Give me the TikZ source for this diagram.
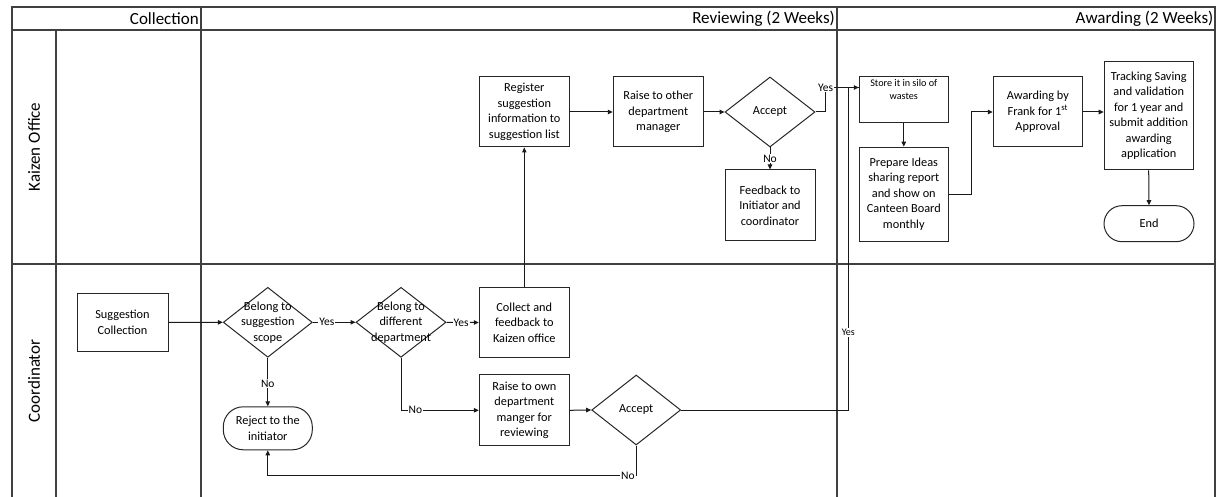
\documentclass[tikz,border=0pt]{standalone}
\usepackage{fontspec}
\setmainfont{Carlito}
\usetikzlibrary{shapes.geometric,arrows.meta,calc}

\newcommand{\boxfont}{\fontsize{12.3}{15.5}\selectfont}
\newcommand{\smallboxfont}{\fontsize{10.2}{12.4}\selectfont}
\newcommand{\edgefont}{\fontsize{11.5}{13}\selectfont}
\newcommand{\headfont}{\fontsize{17}{20}\selectfont}

\tikzset{
  frame/.style={draw=black!75, line width=1.4pt},
  proc/.style={draw=black!85, line width=1pt, rectangle, align=center,
    inner sep=1pt, font=\boxfont, minimum width=90pt, minimum height=70pt},
  term/.style={proc, rounded corners=18pt, minimum height=36pt},
  decision/.style={draw=black!85, line width=1pt, diamond, inner sep=0pt,
    minimum width=89pt, minimum height=70pt},
  txt/.style={align=center, inner sep=0pt, font=\boxfont},
  flow/.style={draw=black!90, line width=1pt, -{Triangle[length=5pt,width=4.5pt]}},
  plain/.style={draw=black!90, line width=1pt},
  elbl/.style={font=\edgefont, fill=white, inner sep=1pt},
  head/.style={font=\headfont, anchor=east, inner sep=0pt},
  lane/.style={font=\headfont, rotate=90, inner sep=0pt}
}

\begin{document}
\begin{tikzpicture}[x=1pt,y=-1pt]
\useasboundingbox (0,0) rectangle (1216,497);

% swimlane grid
\draw[frame] (12,497) -- (12,7) -- (1215,7) -- (1215,497);
\draw[frame] (12,30) -- (1215,30);
\draw[frame] (12,264) -- (1215,264);
\draw[frame] (56,30) -- (56,497);
\draw[frame] (201,7) -- (201,497);
\draw[frame] (837,7) -- (837,497);

% phase headers and lane titles
\node[head] (hcol) at (199,18.5) {Collection};
\node[head] (hrev) at (835,18.5) {Reviewing (2 Weeks)};
\node[head] (hawd) at (1213.5,18.5) {Awarding (2 Weeks)};
\node[lane] (lkz) at (34,147) {Kaizen Office};
\node[lane] (lco) at (34,381) {Coordinator};

% Coordinator lane
\node[proc, minimum width=91pt, minimum height=58pt] (sc) at (122.5,322.5) {Suggestion\\Collection};
\node[decision] (d1) at (267.8,322.3) {};
\node[txt] (d1t) at (d1) {Belong to\\suggestion\\scope};
\node[decision, minimum width=90pt] (d2) at (401,322.3) {};
\node[txt] (d2t) at (d2) {Belong to\\different\\department};
\node[proc] (collect) at (524.3,322.5) {Collect and\\feedback to\\Kaizen office};
\node[term, minimum width=89pt, minimum height=43pt, rounded corners=20pt] (reject) at (267.8,428.3) {Reject to the\\initiator};
\node[proc, minimum height=71pt] (raiseown) at (524.3,410.3) {Raise to own\\department\\manger for\\reviewing};
\node[decision] (acc2) at (636.2,410) {};
\node[txt] (acc2t) at (acc2) {Accept};

% Kaizen Office lane
\node[proc] (register) at (524.3,112) {Register\\suggestion\\information to\\suggestion list};
\node[proc] (raise) at (658.3,112) {Raise to other\\department\\manager};
\node[decision, minimum width=90pt] (acc1) at (770,112) {};
\node[txt] (acc1t) at (acc1) {Accept};
\node[proc, minimum height=71pt] (feedback) at (770,205.5) {Feedback to\\Initiator and\\coordinator};
\node[proc, minimum width=89pt, minimum height=46pt] (store) at (903.8,100) {};
\node[txt, font=\smallboxfont] (storet) at (903.8,89.5) {Store it in silo of\\wastes};
\node[proc, minimum width=89pt, minimum height=94pt] (prepare) at (903.8,194.2) {Prepare Ideas\\sharing report\\and show on\\Canteen Board\\monthly};
\node[proc, minimum width=89pt] (award) at (1037.8,112) {Awarding by\\Frank for 1\textsuperscript{st}\\Approval};
\node[proc, minimum width=89pt, minimum height=108pt] (track) at (1148.7,115.8) {Tracking Saving\\and validation\\for 1 year and\\submit addition\\awarding\\application};
\node[term] (endn) at (1149,223.7) {End};

\coordinate (storein) at ($(store.north west)+(0,11)$);
\coordinate (yx) at (848.3,0);

% connectors
\draw[flow] (sc.east) -- (d1.west);
\draw[flow] (d1.east) -- node[elbl, pos=0.33] {Yes} (d2.west);
\draw[flow] (d2.east) -- node[elbl, pos=0.45] {Yes} (collect.west);
\draw[flow] (collect.north) -- (register.south);
\draw[flow] (register.east) -- (raise.west);
\draw[flow] (raise.east) -- (acc1.west);
\draw[flow] (acc1.south) -- node[elbl, pos=0.5] {No} (feedback.north);
\draw[flow] (acc1.east) -- ++(10,0) |- node[elbl, pos=0.5] {Yes} (storein);
\draw[flow] (store.south) -- (prepare.north);
\draw[flow] (prepare.east) -- ++(22.5,0) |- (award.west);
\draw[flow] (award.east) -- (award.east -| track.west);
\draw[flow] (track.south) -- (endn.north);
\draw[flow] (d1.south) -- node[elbl, pos=0.53] {No} (reject.north);
\draw[flow] (d2.south) |- node[elbl, pos=0.593] {No} (raiseown.west);
\draw[flow] (raiseown.east) -- (acc2.west);
\draw[plain] (acc2.east) -- (acc2.east -| yx) -- node[elbl, pos=0.24, font=\fontsize{10}{12}\selectfont] {Yes} (yx |- storein) -- (storein);
\draw[flow] (acc2.south) -- ++(0,30) node[elbl, anchor=east] {No} -| (reject.south);
\end{tikzpicture}
\end{document}
